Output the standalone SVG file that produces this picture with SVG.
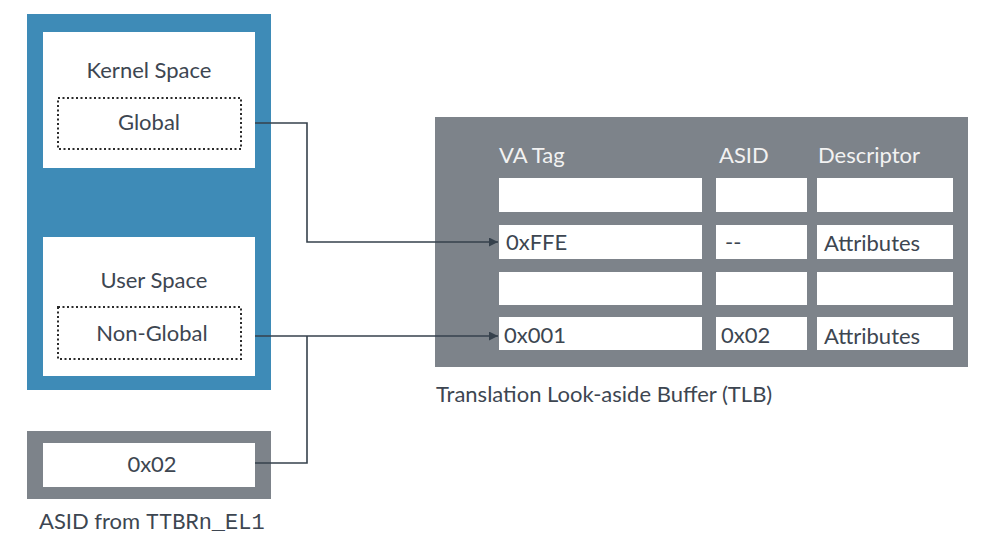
<svg xmlns="http://www.w3.org/2000/svg" width="1000" height="544" viewBox="0 0 1000 544">
<defs>
<style>
.t{font-family:Lato,"Liberation Sans",sans-serif;font-size:22px;fill:#3d4651}
.h{font-family:Lato,"Liberation Sans",sans-serif;font-size:22px;fill:#f2f2f2}
.m{font-family:"Liberation Mono",monospace;font-size:22px;fill:#3d4651}
.w{fill:#ffffff}
.dot{fill:none;stroke:#2b2b2b;stroke-width:2;stroke-dasharray:2 2.5}
.ln{fill:none;stroke:#36414c;stroke-width:1.6}
</style>
<marker id="ah" viewBox="0 0 10 10" refX="10" refY="5" markerWidth="9" markerHeight="9" markerUnits="userSpaceOnUse" orient="auto">
<path d="M0,0 L10,5 L0,10 Z" fill="#36414c"/>
</marker>
</defs>
<rect width="1000" height="544" fill="#ffffff"/>
<g id="address-space">
<rect x="27" y="14" width="244" height="376" fill="#3e8bb7"/>
</g>
<g id="kernel-space">
<rect class="w" x="43" y="32" width="212" height="136"/>
<text class="t" x="149" y="78" text-anchor="middle">Kernel Space</text>
</g>
<g id="global">
<rect class="dot" x="58" y="98" width="183" height="51"/>
<text class="t" x="149" y="130" text-anchor="middle">Global</text>
</g>
<g id="user-space">
<rect class="w" x="43" y="237" width="212" height="139"/>
<text class="t" x="154" y="288" text-anchor="middle">User Space</text>
</g>
<g id="non-global">
<rect class="dot" x="58" y="307" width="183" height="52"/>
<text class="t" x="152" y="341" text-anchor="middle">Non-Global</text>
</g>
<g id="asid-reg">
<rect x="27" y="431" width="244" height="68" fill="#7d838a"/>
<rect class="w" x="43" y="443" width="212" height="44"/>
<text class="t" x="152" y="472" text-anchor="middle">0x02</text>
<text x="39" y="529"><tspan class="t">ASID from </tspan><tspan class="m">TTBRn_EL1</tspan></text>
</g>
<g id="tlb">
<rect x="435" y="117" width="533" height="250" fill="#7d838a"/>
<text class="h" x="499" y="163">VA Tag</text>
<text class="h" x="719" y="163">ASID</text>
<text class="h" x="818" y="163">Descriptor</text>
<rect class="w" x="499" y="178" width="203" height="34"/>
<rect class="w" x="716" y="178" width="91" height="34"/>
<rect class="w" x="817" y="178" width="136" height="34"/>
<rect class="w" x="499" y="225" width="203" height="34"/>
<rect class="w" x="716" y="225" width="91" height="34"/>
<rect class="w" x="817" y="225" width="136" height="34"/>
<rect class="w" x="499" y="272" width="203" height="33"/>
<rect class="w" x="716" y="272" width="91" height="33"/>
<rect class="w" x="817" y="272" width="136" height="33"/>
<rect class="w" x="499" y="317" width="203" height="33"/>
<rect class="w" x="716" y="317" width="91" height="33"/>
<rect class="w" x="817" y="317" width="136" height="33"/>
<text class="t" x="506" y="250">0xFFE</text>
<text class="t" x="725" y="250">--</text>
<text class="t" x="824" y="251">Attributes</text>
<text class="t" x="504" y="343">0x001</text>
<text class="t" x="721" y="343">0x02</text>
<text class="t" x="824" y="344">Attributes</text>
<text class="t" x="436" y="402">Translation Look-aside Buffer (TLB)</text>
</g>
<g id="connectors">
<polyline class="ln" points="255,123 307,123 307,242 498,242" marker-end="url(#ah)"/>
<polyline class="ln" points="255,336 498,336" marker-end="url(#ah)"/>
<polyline class="ln" points="307,336 307,463 255,463"/>
</g>
</svg>
